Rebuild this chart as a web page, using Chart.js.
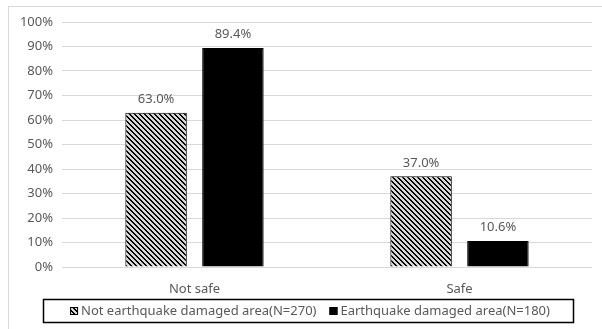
<!DOCTYPE html>
<html>
<head>
<meta charset="utf-8">
<script src="https://cdn.jsdelivr.net/npm/chart.js@4/dist/chart.umd.min.js"></script>
<style>
  html, body { margin: 0; padding: 0; background: #fff; }
  #wrap { width: 602px; height: 329px; }
</style>
</head>
<body>
<div id="wrap"><canvas id="c" width="602" height="329"></canvas></div>
<script>
const categories = ['Not safe', 'Safe'];
const seriesLabels = ['Not earthquake damaged area(N=270)', 'Earthquake damaged area(N=180)'];
const notDamaged = [63.0, 37.0];
const damaged = [89.4, 10.6];

const FONT = '"Noto Sans", sans-serif';
const TEXT = '#595959';

function makeHatch() {
  const p = document.createElement('canvas');
  p.width = 5; p.height = 5;
  const g = p.getContext('2d');
  for (let x = 0; x < 5; x++) {
    for (let y = 0; y < 5; y++) {
      g.fillStyle = ((x - y + 10) % 5) < 2 ? '#000' : '#d6d6d6';
      g.fillRect(x, y, 1, 1);
    }
  }
  return document.getElementById('c').getContext('2d').createPattern(p, 'repeat');
}
const hatch = makeHatch();

const decorations = {
  id: 'decorations',
  afterDatasetsDraw(chart) {
    const ctx = chart.ctx;
    ctx.save();
    ctx.font = '13px ' + FONT;
    ctx.fillStyle = TEXT;
    ctx.textAlign = 'center';
    ctx.textBaseline = 'bottom';
    chart.data.datasets.forEach((ds, i) => {
      chart.getDatasetMeta(i).data.forEach((bar, j) => {
        ctx.fillText(ds.data[j].toFixed(1) + '%', bar.x, bar.y - 7);
      });
    });
    ctx.restore();
  },
  afterDraw(chart) {
    const ctx = chart.ctx;
    ctx.save();
    // outer frame
    ctx.strokeStyle = '#d9d9d9';
    ctx.lineWidth = 1;
    ctx.strokeRect(8.5, 6.5, 620, 340);
    // legend box
    ctx.strokeStyle = '#000';
    ctx.lineWidth = 1.5;
    ctx.strokeRect(43.5, 299.5, 530, 23);
    // legend items
    ctx.font = '13px ' + FONT;
    ctx.textBaseline = 'middle';
    ctx.textAlign = 'left';
    const box = 8, sp = 3, gap = 13;
    const widths = seriesLabels.map(t => ctx.measureText(t).width);
    const total = widths.reduce((a, w) => a + box + sp + w, 0) + gap;
    let x = 310 - total / 2;
    const cy = 311;
    chart.data.datasets.forEach((ds, i) => {
      ctx.fillStyle = ds.backgroundColor;
      ctx.fillRect(x, cy - box / 2, box, box);
      ctx.strokeStyle = '#000';
      ctx.lineWidth = 1;
      ctx.strokeRect(x + 0.5, cy - box / 2 + 0.5, box - 1, box - 1);
      ctx.fillStyle = TEXT;
      ctx.fillText(seriesLabels[i], x + box + sp, cy);
      x += box + sp + widths[i] + gap;
    });
    ctx.restore();
  }
};

new Chart(document.getElementById('c'), {
  type: 'bar',
  data: {
    labels: categories,
    datasets: [
      { label: seriesLabels[0], data: notDamaged, backgroundColor: hatch, borderColor: '#000', borderWidth: 1 },
      { label: seriesLabels[1], data: damaged, backgroundColor: '#000', borderColor: '#000', borderWidth: 1 }
    ]
  },
  options: {
    responsive: false,
    animation: false,
    categoryPercentage: 0.58,
    barPercentage: 0.8,
    layout: { padding: { left: 10, right: 10, top: 22, bottom: 32 } },
    plugins: { legend: { display: false }, tooltip: { enabled: false } },
    scales: {
      x: {
        grid: { display: false },
        border: { display: false },
        ticks: { color: TEXT, font: { family: FONT, size: 13 }, padding: 6 },
        afterFit(s) { s.height = 30; }
      },
      y: {
        min: 0, max: 100,
        grid: { color: '#d9d9d9', drawTicks: false },
        border: { display: false },
        ticks: { stepSize: 10, color: TEXT, font: { family: FONT, size: 13 }, padding: 9, callback: v => v + '%' },
        afterFit(s) { s.width = 52; }
      }
    }
  },
  plugins: [decorations]
});
</script>
</body>
</html>
